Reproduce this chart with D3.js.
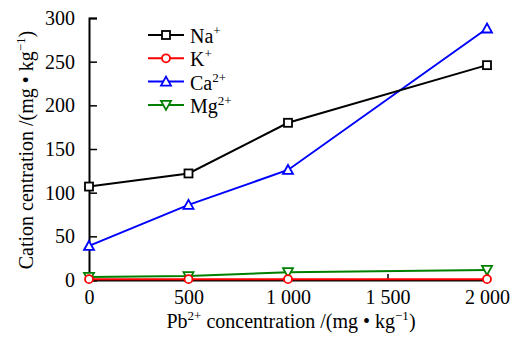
<!DOCTYPE html>
<html>
<head>
<meta charset="utf-8">
<script src="https://cdn.jsdelivr.net/npm/d3@7"></script>
<style>
  body { margin: 0; background: #fff; }
</style>
</head>
<body>
<div id="chart"></div>
<script>
const pb = [0, 500, 1000, 2000];
const na = [107, 122, 180, 246];
const k = [1, 1, 1, 1];
const ca = [39, 86, 126, 288];
const mg = [3.5, 4.5, 9, 11.5];
const xTicks = [0, 500, 1000, 1500, 2000];
const yTicks = [0, 50, 100, 150, 200, 250, 300];

const series = [
    { name: "Na", sup: "+", values: na, color: "#000000", symbol: "square" },
    { name: "K", sup: "+", values: k, color: "#ff0000", symbol: "circle" },
    { name: "Ca", sup: "2+", values: ca, color: "#0000ff", symbol: "up" },
    { name: "Mg", sup: "2+", values: mg, color: "#008000", symbol: "down" }
];

const FONT = "Liberation Serif";

let margin = { top: 18, right: 33, bottom: 58, left: 89 },
    width = 520 - margin.left - margin.right,
    height = 338 - margin.top - margin.bottom;

let svg = d3.select("#chart")
    .append("svg")
    .attr("width", 520)
    .attr("height", 338)
    .attr("font-family", FONT);

let g = svg.append("g")
    .attr("transform", "translate(" + margin.left + "," + margin.top + ")");

let x = d3.scaleLinear().domain([0, 2000]).range([0, width]);
let y = d3.scaleLinear().domain([0, 300]).range([height, 0]);

const fmt = d => d >= 1000 ? String(d).replace(/(\d)(\d{3})$/, "$1 $2") : String(d);

// axes, ticks pointing inward
let xAxis = g.append("g")
    .attr("transform", "translate(0," + height + ")")
    .call(d3.axisBottom(x).tickValues(xTicks).tickSize(-6).tickPadding(10).tickFormat(fmt));
let yAxis = g.append("g")
    .call(d3.axisLeft(y).tickValues(yTicks).tickSize(-8).tickPadding(14));

[xAxis, yAxis].forEach(a => {
    a.attr("font-family", FONT).attr("font-size", 20);
    a.select(".domain").attr("stroke", "#000").attr("stroke-width", 2);
    a.selectAll(".tick line").attr("stroke", "#000").attr("stroke-width", 1.5);
    a.selectAll("text").attr("fill", "#000");
});

// marker drawer
function marker(sel, sym, color) {
    if (sym === "square") {
        sel.append("rect").attr("x", -4).attr("y", -4).attr("width", 8).attr("height", 8)
            .attr("fill", "#fff").attr("stroke", color).attr("stroke-width", 1.8);
    } else if (sym === "circle") {
        sel.append("circle").attr("r", 4)
            .attr("fill", "#fff").attr("stroke", color).attr("stroke-width", 1.8);
    } else if (sym === "up") {
        sel.append("path").attr("d", "M0,-5L5,4L-5,4Z")
            .attr("fill", "#fff").attr("stroke", color).attr("stroke-width", 1.8);
    } else {
        sel.append("path").attr("d", "M0,5L5,-4L-5,-4Z")
            .attr("fill", "#fff").attr("stroke", color).attr("stroke-width", 1.8);
    }
}

let line = d3.line()
    .x((d, i) => x(pb[i]))
    .y(d => y(d));

const order = [3, 2, 0, 1];
order.forEach(si => {
    let s = series[si];
    g.append("path")
        .datum(s.values)
        .attr("fill", "none")
        .attr("stroke", s.color)
        .attr("stroke-width", 2)
        .attr("d", line);
});
order.forEach(si => {
    let s = series[si];
    s.values.forEach((v, i) => {
        let m = g.append("g").attr("transform", "translate(" + x(pb[i]) + "," + y(v) + ")");
        marker(m, s.symbol, s.color);
    });
});

// legend
let legend = svg.append("g").attr("transform", "translate(148,35)");
series.forEach((s, i) => {
    let row = legend.append("g").attr("transform", "translate(0," + (i * 23.3) + ")");
    row.append("line").attr("x1", 0).attr("x2", 36).attr("y1", 0).attr("y2", 0)
        .attr("stroke", s.color).attr("stroke-width", 2);
    let m = row.append("g").attr("transform", "translate(18,0)");
    marker(m, s.symbol, s.color);
    let t = row.append("text").attr("x", 42).attr("y", 8).attr("font-size", 20).attr("fill", "#000");
    t.append("tspan").text(s.name);
    t.append("tspan").attr("dy", -8).attr("font-size", 13).text(s.sup);
});

// axis titles
let xt = svg.append("text")
    .attr("x", 291).attr("y", 328)
    .attr("text-anchor", "middle")
    .attr("font-size", 20).attr("fill", "#000");
xt.append("tspan").text("Pb");
xt.append("tspan").attr("dy", -8).attr("font-size", 13).text("2+");
xt.append("tspan").attr("dy", 8).text(" concentration /(mg • kg");
xt.append("tspan").attr("dy", -8).attr("font-size", 13).text("−1");
xt.append("tspan").attr("dy", 8).text(")");

let yt = svg.append("text")
    .attr("transform", "translate(33,150) rotate(-90)")
    .attr("text-anchor", "middle")
    .attr("font-size", 20).attr("fill", "#000");
yt.append("tspan").text("Cation centration /(mg • kg");
yt.append("tspan").attr("dy", -8).attr("font-size", 13).text("−1");
yt.append("tspan").attr("dy", 8).text(")");

// make sure every label uses the serif face
svg.selectAll("text").attr("font-family", FONT).style("font-family", "'Liberation Serif', serif");
</script>
</body>
</html>
